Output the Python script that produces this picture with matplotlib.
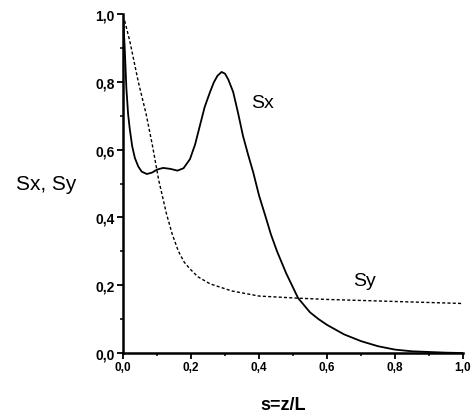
import matplotlib
matplotlib.use('Agg')
import matplotlib.pyplot as plt

# values
s_x = [0.0, 0.005, 0.01, 0.015, 0.02, 0.027, 0.035, 0.045, 0.055, 0.07, 0.085, 0.10,
       0.118, 0.14, 0.16, 0.178, 0.197, 0.212, 0.226, 0.24, 0.256, 0.267, 0.278, 0.29,
       0.30, 0.31, 0.324, 0.338, 0.353, 0.368, 0.383, 0.40, 0.42, 0.435, 0.453, 0.48,
       0.515, 0.55, 0.575, 0.60, 0.65, 0.70, 0.75, 0.80, 0.85, 0.90, 0.95, 1.0]
sx_vals = [1.0, 0.90, 0.78, 0.705, 0.66, 0.61, 0.575, 0.55, 0.535, 0.528, 0.532, 0.541,
           0.546, 0.543, 0.538, 0.545, 0.572, 0.615, 0.67, 0.725, 0.77, 0.798, 0.818, 0.829,
           0.824, 0.806, 0.77, 0.71, 0.64, 0.585, 0.533, 0.465, 0.40, 0.35, 0.30, 0.235,
           0.162, 0.12, 0.10, 0.083, 0.055, 0.035, 0.02, 0.01, 0.005, 0.003, 0.001, 0.0]

s_y = [0.005, 0.02, 0.045, 0.068, 0.087, 0.105, 0.128, 0.145, 0.163, 0.18, 0.197, 0.22,
       0.256, 0.32, 0.40, 0.51, 0.60, 0.70, 0.80, 0.90, 1.0]
sy_vals = [0.98, 0.92, 0.80, 0.705, 0.61, 0.51, 0.41, 0.35, 0.30, 0.268, 0.248, 0.225,
           0.204, 0.183, 0.168, 0.162, 0.158, 0.155, 0.152, 0.149, 0.146]

ticks = [0.0, 0.2, 0.4, 0.6, 0.8, 1.0]
tick_labels = ['0,0', '0,2', '0,4', '0,6', '0,8', '1,0']
minor = [0.1, 0.3, 0.5, 0.7, 0.9]

plt.rcParams['font.family'] = ['Liberation Sans', 'DejaVu Sans']

fig = plt.figure(figsize=(4.72, 4.14), dpi=100)
ax = fig.add_axes([123/472, 1 - 354/414, 340/472, 339/414])

ax.plot(s_x, sx_vals, color='black', lw=1.3)
ax.plot(s_y, sy_vals, color='black', lw=1.0, linestyle=(0, (2.2, 1.6)))

ax.set_xlim(0, 1)
ax.set_ylim(0, 1)
for side in ['top', 'right']:
    ax.spines[side].set_visible(False)
for side in ['left', 'bottom']:
    ax.spines[side].set_linewidth(1.8)

ax.set_xticks(ticks)
ax.set_xticklabels(tick_labels, fontsize=8.5, fontweight='bold')
ax.set_yticks(ticks)
ax.set_yticklabels(tick_labels, fontsize=10, fontweight='bold')
ax.set_xticks(minor, minor=True)
ax.set_yticks(minor, minor=True)
ax.tick_params(which='major', direction='out', length=4, width=1.3, pad=2)
ax.tick_params(which='minor', direction='out', length=2.5, width=1.1)

ax.text(0.41, 0.74, 'Sx', fontsize=14, ha='center', va='center')
ax.text(0.71, 0.213, 'Sy', fontsize=14, ha='center', va='center')

fig.text(46/472, 1 - 185/414, 'Sx, Sy', fontsize=15, ha='center', va='center')
fig.text(283/472, 1 - 406/414, 's=z/L', fontsize=13, fontweight='bold', ha='center', va='center')

plt.savefig('out.png', dpi=100)
